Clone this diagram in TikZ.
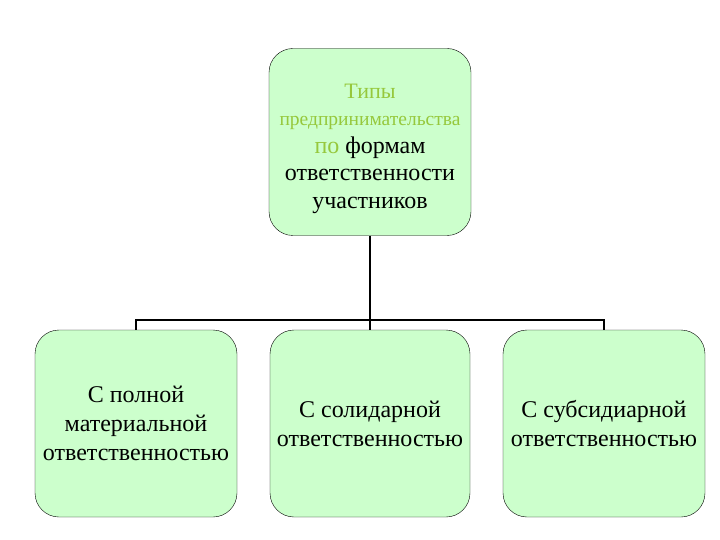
\documentclass[tikz,border=0pt]{standalone}
\usepackage{fontspec}
\setmainfont{Liberation Serif}
\usepackage{tikz}
\usetikzlibrary{positioning}
\definecolor{boxgreen}{RGB}{204,255,204}
\definecolor{titlegreen}{RGB}{150,200,60}

\begin{document}
\begin{tikzpicture}[
			x=1pt, y=-1pt,
			every node/.style={
					draw,
					fill=boxgreen,
					rounded corners=24pt,
					align=center,
					inner sep=2pt,
					font=\fontsize{24}{29}\selectfont
				},
			kind/.style={minimum width=202pt, minimum height=187pt},
			link/.style={line width=2pt}
		]
		\useasboundingbox (0,0) rectangle (720,540);

		% top box
		\node[kind, font=\fontsize{24}{27.5}\selectfont] (types) at (370,142) {%
			\mbox{}\\
			{\color{titlegreen}\fontsize{22}{27.5}\selectfont Типы}\\
			{\color{titlegreen}\fontsize{19.5}{27.5}\selectfont предпринимательства}\\
			{\color{titlegreen}по} формам\\
			ответственности\\
			участников};

		% three kinds
		\node[kind] (full) at (136,423.5) {С полной\\ материальной\\ ответственностью};
		\node[kind, minimum width=200pt] (joint) at (370,423.5) {С солидарной\\ ответственностью};
		\node[kind] (subs) at (604,423.5) {С субсидиарной\\ ответственностью};

		\coordinate (bus) at (370,320);

		\draw[link, line width=2.5pt] (types.south) -- (bus);
		\draw[link] (bus) -| (full.north);
		\draw[link] (bus) -| (subs.north);
		\draw[link] (bus) -- (joint.north);
	\end{tikzpicture}
\end{document}
